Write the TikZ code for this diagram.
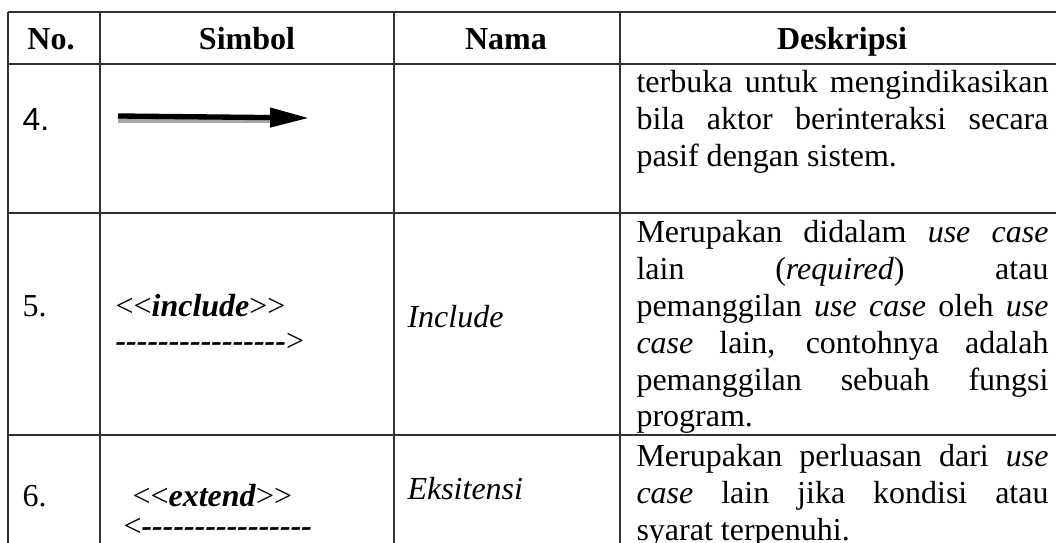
\documentclass[tikz,border=0pt]{standalone}
\usepackage{fontspec}
\setmainfont{Liberation Serif}
\newfontfamily\arialfont{Liberation Sans}
\usetikzlibrary{arrows.meta,positioning}

\newcommand\bodyfont{\fontsize{12pt}{13.8pt}\selectfont}
\newlength\descw
\setlength\descw{154.5pt}
\newcommand\jl[1]{\makebox[\descw][s]{#1}\\}
\newcommand\dashrun{\foreach \k in {1,...,16}{-}}

\begin{document}
\begin{tikzpicture}[x=0.375pt, y=-0.375pt, font=\bodyfont,
  grid/.style={draw=black!80, line width=0.8pt},
  cell/.style={inner sep=0pt, anchor=base west},
  head/.style={inner sep=0pt, anchor=base, font=\bodyfont\bfseries},
  desc/.style={inner sep=0pt, anchor=base west}]
\useasboundingbox (0,0) rectangle (1056,543);
\foreach \y in {12,64,213,435} \draw[grid] (8,\y) -- (1056,\y);
\foreach \x in {8,100,394,620} \draw[grid] (\x,12) -- (\x,543);

\node[head] (hno) at (51,50) {No.};
\node[head] (hsym) at (247,50) {Simbol};
\node[head] (hnama) at (506,50) {Nama};
\node[head] (hdesk) at (842,50) {Deskripsi};

\node[cell, font=\bodyfont\arialfont] (n4) at (22,131) {4.};
\coordinate (a4s) at (118,116);
\coordinate (a4m) at (270,116);
\coordinate (a4e) at (309,118);
\draw[black!35, line width=1.6pt] ([yshift=-1.7pt]a4s) -- ([yshift=-1.7pt]a4m);
\draw[line width=2pt, -{Triangle[length=14.6pt,width=7pt]}] (a4s) -- (a4e);
\node[desc] (d4) at (636,93) {\parbox[t]{\descw}{\bodyfont
  \jl{terbuka untuk mengindikasikan}
  \jl{bila aktor berinteraksi secara}
  pasif dengan sistem.}};

\node[cell] (n5) at (22,317) {5.};
\node[cell] (inc) at (115,317) {<{}<\textbf{\textit{include}}>{}>};
\node[cell] (incarr) at (115,352) {\textbf{\textit{\dashrun}}>};
\node[cell] (nama5) at (407,328) {\textit{Include}};
\node[desc] (d5) at (636,243) {\parbox[t]{\descw}{\bodyfont
  \jl{Merupakan didalam \textit{use case}}
  \jl{lain (\textit{required}) atau}
  \jl{pemanggilan \textit{use case} oleh \textit{use}}
  \jl{\textit{case} lain, contohnya adalah}
  \jl{pemanggilan sebuah fungsi}
  program.}};

\node[cell] (n6) at (22,507) {6.};
\node[cell] (ext) at (132,507) {<{}<\textbf{\textit{extend}}>{}>};
\node[cell] (extarr) at (123,537) {<\textbf{\textit{\dashrun}}};
\node[cell] (nama6) at (407,500) {\textit{Eksitensi}};
\node[desc] (d6) at (636,467) {\parbox[t]{\descw}{\bodyfont
  \jl{Merupakan perluasan dari \textit{use}}
  \jl{\textit{case} lain jika kondisi atau}
  syarat terpenuhi.}};
\end{tikzpicture}
\end{document}
